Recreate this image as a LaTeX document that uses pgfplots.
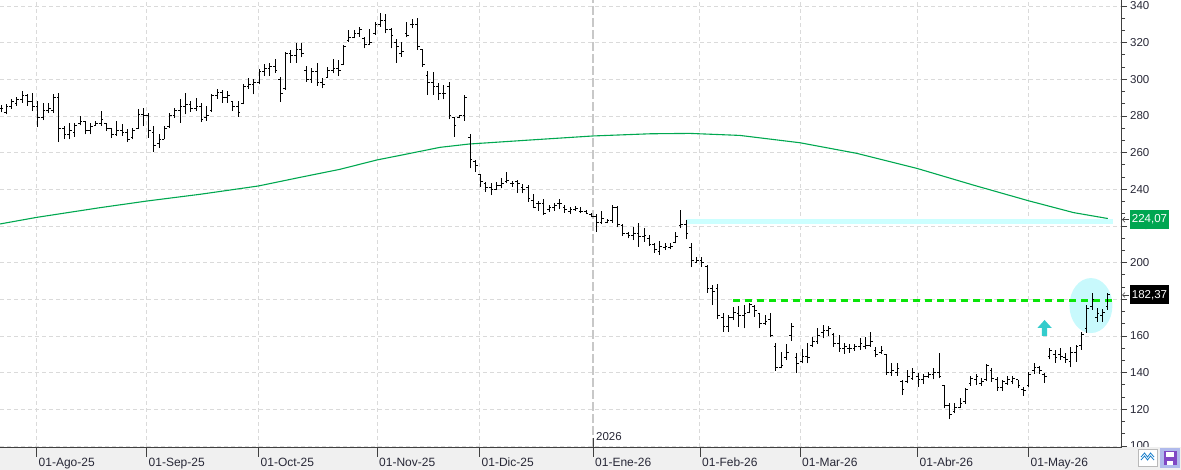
\documentclass[border=0pt]{standalone}
\usepackage{pgfplots}
\pgfplotsset{compat=1.18}
\usepackage{pgfplotstable}
\usepackage{fontspec}
\setmainfont{Liberation Sans}
\usetikzlibrary{arrows.meta}
\definecolor{gridc}{RGB}{218,218,218}
\definecolor{enec}{RGB}{200,200,200}
\definecolor{axiscol}{RGB}{64,64,64}
\definecolor{txtc}{RGB}{40,40,55}
\definecolor{mac}{RGB}{0,168,80}
\definecolor{cyanl}{RGB}{204,255,255}
\definecolor{ellc}{RGB}{200,249,252}
\definecolor{dashg}{RGB}{10,228,10}
\definecolor{arrc}{RGB}{51,204,204}
\definecolor{lblg}{RGB}{0,166,81}
\definecolor{bandc}{RGB}{240,240,240}
\definecolor{purpbg}{RGB}{176,186,236}
\definecolor{floppy}{RGB}{128,72,196}

\pgfplotstableread{
x o h l c
0 284 286 282 284
1 282 286.4 280.9 285
2 285 289.5 284 288
3 287 290.5 285.5 289
4 289 293.6 287.3 291
5 291 291.8 285.5 288
6 288 292.4 282.7 285
7 285 288.2 274 279
8 279 287.3 277.8 283
9 283 287.3 281.5 284
10 283 291.8 281.8 290
11 290 292.7 265.8 273
12 273 274.5 267.6 270
13 270 276.4 267.3 272
14 271 276.4 268.7 275
15 276 280 274.9 277
16 277 277.3 270 272
17 272 276.4 270 274
18 275 277.3 274.5 276
19 276 282.7 274.5 278
20 276 276.4 271.8 273
21 273 273.6 268.2 270
22 270 277.3 269.1 272
23 272 275.5 269.1 271
24 271 272.7 265.8 267
25 268 273.6 267.3 272
26 273 283.6 273.1 281
27 281 284.5 274.5 280
28 280 281.8 268.2 272
29 271 274.5 260.4 264
30 265 270 262.7 267
31 267 274.5 267.3 273
32 274 281.8 273.6 280
33 280 284.5 279.1 283
34 283 289.1 276.4 285
35 285 292.7 280.9 286
36 286 288.2 282.2 284
37 284 290 282.7 285
38 285 287.3 276.7 278
39 279 285.5 277.3 280
40 283 291.8 282.2 291
41 291 294.9 289.5 293
42 293 294.2 287.3 290
43 290 293.6 287.3 291
44 288 288.2 282.7 285
45 285 288.2 279.6 282
46 287 297.3 286.4 296
47 296 300.9 294.9 297
48 297 300 291.8 298
49 298 305.5 297.3 304
50 304 308.2 301.8 306
51 306 309.1 301.8 307
52 307 311 303.6 305
53 300 301 287.6 292
54 295 315.1 294.2 314
55 314 316 309.1 313
56 313 320 309.1 316
57 316 319.6 312 314
58 305 307.3 298.7 300
59 300 306 298.2 304
60 304 309.1 296.4 298
61 298 300.5 295.1 297
62 301 306.9 301.1 305
63 305 310.9 303.3 306
64 306 310.5 301.8 305
65 308 318.7 307.8 318
66 321 326.9 320.5 323
67 323 326.9 322.4 325
68 325 328.7 323.3 327
69 322 322.9 316.9 319
70 319 327.3 318.7 320
71 325 331.5 324.2 330
72 330 336.4 328.7 332
73 332 335.6 325.1 327
74 327 327.8 316.9 324
75 320 321.8 309.1 318
76 314 320.5 312.4 315
77 325 331.5 322.9 324
78 330 332.7 327.8 330
79 330 333.3 316 318
80 316 316.4 306.9 308
81 302 304.7 291.5 298
82 298 304.2 291.5 296
83 296 297.8 288.7 292
84 292 296.9 289.1 292
85 296 298.7 278.2 280
86 279 279.6 268.7 275
87 279 280.5 278.7 280
88 280 291.5 277.5 290
89 268 270.2 251.4 256
90 255 256 249.6 253
91 248 248.3 241.4 244
92 243 244.2 238.7 241
93 241 243.6 236.9 240
94 240 244.2 239.6 242
95 242 246 240.5 243
96 244 249.6 243.3 245
97 243 244.7 241.4 243
98 244 245.1 238.2 243
99 241 242.9 237.8 240
100 241 242.4 233.3 235
101 234 237.4 229.6 230
102 232 233.8 228.3 232
103 232 234.5 226 227
104 229 231.4 227.8 230
105 230 232.7 228.3 231
106 232 234.5 229.1 232
107 230 231.4 227.3 229
108 228 230.2 226.5 229
109 229 230.9 228.3 229.5
110 228 230.2 226.9 228
111 228 228.7 226.5 227
112 226 227.3 224.7 225
113 225 226.5 216.9 222
114 222 228.3 221.1 224
115 222 223.6 221.4 223
116 223 231.4 221.8 230
117 230 230.9 219.3 221
118 220 221.1 214.5 216
119 216 216.9 213.3 215
120 215 219.3 212.3 216
121 216 221.4 208.7 214
122 214 218.7 211.4 215
123 213 215.1 209.1 210
124 210 210.9 205.4 207
125 206 212 204.2 209
126 208 210.9 206.9 209
127 208 210.5 207.3 209
128 211 216.9 210.5 214
129 220 228.7 218.7 221
130 221 223.3 212.7 216
131 208 210.6 197.5 201
132 200 202.9 199.7 201
133 201 202.9 197.8 200
134 198 198.7 183.7 186
135 186 187.8 176.9 184
136 186 188.4 169.1 171
137 170 172.4 162.4 165
138 165 171.5 162.4 170
139 170 176 168.7 173
140 172 176.4 165.1 171
141 171 176.9 164.2 172
142 173 177.8 172.4 177
143 176 176.9 170.6 174
144 172 172.4 164.2 167
145 167 171.5 166 168
146 169 172.4 159.3 160
147 154 156 141.1 143
148 143 151.5 142.4 144
149 148 155.6 146.9 151
150 160 167.3 157.5 165
151 148 150.9 140 145
152 146 152.7 145.1 149
153 149 156 145.1 148
154 155 159.7 154.2 157
155 157 164.2 155.6 160
156 162 166 158.7 163
157 163 165.5 160 164
158 161 161.8 154.2 156
159 156 160.6 151.5 153
160 153 156.4 150.2 154
161 153 155.6 150.9 153
162 153 155.6 152 154
163 154 158.7 152.4 156
164 154 159.3 152.7 155
165 155 162.4 154.2 157
166 152 154.2 148.4 150
167 151 154.6 150.2 152
168 150 150.2 138.8 140
169 140 145.1 138.2 141
170 140 145.1 138.2 142
171 135 136 127.8 131
172 135 141.5 134.2 138
173 137 142.4 136 140
174 138 140 132.4 136
175 136 139.3 133.8 138
176 138 140.6 137 139
177 139 142.4 136.4 140
178 140 150.6 136.9 138
179 133 133.3 120.6 122
180 122 123.7 114.6 117
181 119 123.7 117.8 121
182 121 126 120.6 123
183 124 131.5 122.9 131
184 134 138.2 132.8 137
185 136 139.3 133.3 138
186 134 136.9 132.8 135
187 136 144.8 135.7 144
188 141 142.4 135.1 137
189 136 137.5 130.2 132
190 132 136 130.2 135
191 134 138.2 133.3 136
192 135 138.2 133.8 137
193 136 136 131.5 133
194 131 132.4 127.3 130
195 133 140.6 132 139
196 141 145.1 139.3 143
197 143 143.7 139.3 141
198 139 139.7 134.6 138
199 149 153.3 147.3 152
200 150 152.4 145.5 148
201 150 153.3 146.9 149
202 148 150.9 145.5 147
203 146 154.2 142.9 151
204 151 155.1 146 154
205 155 162.4 152.4 161
206 164 176.9 161.8 175
207 176 183.3 174.2 180
208 170 175.1 167.8 172
209 171 174.5 167.8 173
210 176 183.3 174.2 182.37
}\ohlc

\begin{document}
\begin{tikzpicture}
\useasboundingbox (0,0) rectangle (1181pt,470pt);
\begin{axis}[
  at={(0pt,23pt)}, anchor=south west,
  scale only axis, width=1121pt, height=447pt,
  xmin=-0.19, xmax=212.5, ymin=99.45, ymax=343.27,
  axis x line*=bottom, axis y line*=right,
  axis line style={draw=axiscol, line width=0.9pt},
  xtick=\empty,
  ymajorgrids,
  grid style={draw=gridc, line width=0.9pt, dash pattern=on 4pt off 3pt},
  ytick={100,120,...,340},
  minor y tick num=2,
  tick align=outside,
  major tick length=6pt, minor tick length=4pt,
  tick style={draw=axiscol, line width=0.8pt},
  yticklabel style={font=\fontsize{11.5}{13}\selectfont, text=txtc, inner xsep=3pt},
  /pgf/number format/assume math mode=true,
]
\foreach \m in {6.72,27.63,48.9,71.35,90.8,132.6,151.7,173.9,194.95}{
  \edef\temp{\noexpand\draw[gridc, line width=0.9pt, dash pattern=on 4pt off 3pt] (axis cs:\m,99.45) -- (axis cs:\m,343.27);}
  \temp
}
\draw[enec, line width=1.1pt, dash pattern=on 9pt off 3pt] (axis cs:112.33,99.45) -- (axis cs:112.33,343.27);
\fill[ellc] (axis cs:206.8,176.6) ellipse [x radius=21.5pt, y radius=27.5pt];
\addplot[mac, line width=1.1pt] coordinates {(-0.19,221.1) (6.77,224.7) (18.8,230.0) (27.65,233.6) (37.8,237.3) (48.8,241.8) (56.7,246.5) (64.3,250.9) (71.3,256.0) (75.7,258.5) (83.3,262.9) (88.8,264.7) (100.4,266.9) (112.3,269.1) (123.2,270.3) (130.7,270.5) (140.2,269.4) (151.6,265.4) (162.4,259.6) (173.8,251.4) (184.5,242.3) (194.9,233.8) (203.5,227.3) (210,224.07)};
\addplot[cyanl, line width=5pt] coordinates {(130,222.4) (211,222.4)};
\addplot[dashg, line width=2.8pt, dash pattern=on 7.3pt off 4.7pt] coordinates {(138.9,179.4) (210.8,179.4)};
\fill[arrc, shift={(axis cs:198,160)}] (-2.6pt,0pt) -- (2.6pt,0pt) -- (2.6pt,8pt) -- (7.2pt,8pt) -- (0pt,16pt) -- (-7.2pt,8pt) -- (-2.6pt,8pt) -- cycle;
\addplot[draw=none, mark=none, error bars/.cd, y dir=plus, y explicit, error mark=none, error bar style={line width=1pt, draw=black}] table[x=x, y=l, y error expr=\thisrow{h}-\thisrow{l}] {\ohlc};
\addplot[draw=none, mark=none, error bars/.cd, x dir=minus, x fixed=0.42, error mark=none, error bar style={line width=1pt, draw=black}] table[x=x, y=o] {\ohlc};
\addplot[draw=none, mark=none, error bars/.cd, x dir=plus, x fixed=0.42, error mark=none, error bar style={line width=1pt, draw=black}] table[x=x, y=c] {\ohlc};
\end{axis}
% bottom band
\fill[bandc] (0pt,0pt) rectangle (1181pt,22.5pt);
\draw[axiscol, line width=0.9pt] (0pt,23pt) -- (1121.5pt,23pt);
\foreach \p in {36.4,146.6,258.7,377,479.5,700,800.3,917.5,1028.4}{
  \draw[axiscol, line width=0.8pt] (\p pt,23pt) -- (\p pt,13pt);
}
\draw[axiscol, line width=0.8pt] (593pt,32pt) -- (593pt,13pt);
\begin{scope}[every node/.style={anchor=base west, inner sep=0pt, font=\fontsize{12}{14}\selectfont, text=txtc}]
\node at (38.5pt,3pt) {01-Ago-25};
\node at (148.5pt,3pt) {01-Sep-25};
\node at (260.5pt,3pt) {01-Oct-25};
\node at (379pt,3pt) {01-Nov-25};
\node at (481.5pt,3pt) {01-Dic-25};
\node at (595pt,3pt) {01-Ene-26};
\node at (702pt,3pt) {01-Feb-26};
\node at (802pt,3pt) {01-Mar-26};
\node at (919.5pt,3pt) {01-Abr-26};
\node at (1030.5pt,3pt) {01-May-26};
\node[font=\fontsize{11.5}{13}\selectfont] at (596pt,29pt) {2026};
\end{scope}
% right value labels
\node[fill=lblg, text=white, inner sep=0pt, minimum width=39pt, minimum height=19pt, font=\fontsize{11.5}{13}\selectfont] at (1149.5pt,250.3pt) {224,07};
\node[fill=black, text=white, inner sep=0pt, minimum width=39pt, minimum height=19pt, font=\fontsize{11.5}{13}\selectfont] at (1149.5pt,175pt) {182,37};
\draw[axiscol, line width=0.6pt, -{Straight Barb[length=2.5pt,width=5pt]}] (1129pt,250.3pt) -- (1122pt,250.3pt);
\draw[axiscol, line width=0.6pt, -{Straight Barb[length=2.5pt,width=5pt]}] (1129pt,175pt) -- (1122pt,175pt);
% icons
\draw[gray!55, fill=white, line width=0.8pt] (1138pt,3.5pt) rectangle (1157pt,20.5pt);
\draw[cyan!60!blue, line width=0.8pt] (1141pt,10pt) -- (1144.5pt,14pt) -- (1147.5pt,10pt) -- (1150.5pt,14pt) -- (1154pt,10pt);
\draw[cyan!60!blue, line width=0.8pt] (1141pt,13pt) -- (1144.5pt,17pt) -- (1147.5pt,13pt) -- (1150.5pt,17pt) -- (1154pt,13pt);
\fill[purpbg] (1160pt,2pt) rectangle (1180pt,22pt);
\fill[floppy] (1163.5pt,5pt) rectangle (1176.5pt,19pt);
\fill[white] (1166pt,13pt) rectangle (1174pt,18pt);
\fill[white] (1167pt,5pt) rectangle (1173pt,9pt);
\end{tikzpicture}
\end{document}
